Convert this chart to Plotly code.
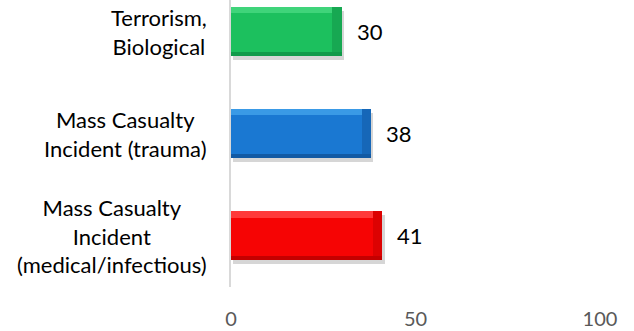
import plotly.graph_objects as go

# Response counts per scenario, listed bottom to top
categories = [
    "Mass Casualty<br>Incident<br>(medical/infectious)",
    "Mass Casualty<br>Incident (trauma)",
    "Terrorism,<br>Biological",
]
values = [41, 38, 30]
colors = ["#f60404", "#1a78d2", "#1cc05e"]
light_colors = ["#ff3a3a", "#3a9ae6", "#3fd47a"]
end_colors = ["#dc0202", "#1667b8", "#17a852"]
dark_colors = ["#c40000", "#125aa4", "#119a4a"]
x_ticks = [0, 50, 100]

font_family = "Lato, 'Open Sans', sans-serif"
bar_width = 0.48
bevel = 0.06          # bevel thickness across the bar (category units)
bevel_len = 2.6       # bevel length at the bar end (value units)
pos = list(range(len(categories)))

fig = go.Figure()

def add_bar(x, base, width, offset, color):
    fig.add_trace(go.Bar(
        y=pos, x=x, base=base, orientation="h", width=width, offset=offset,
        marker=dict(color=color, line=dict(width=0)),
        hoverinfo="skip", showlegend=False,
    ))

# soft drop shadow under each bar
add_bar(values, 0.6, bar_width, -bar_width / 2 - 0.035, "rgba(0,0,0,0.16)")
# bar body
add_bar(values, 0, bar_width, -bar_width / 2, colors)
# shaded bevel at the bar end
add_bar([bevel_len] * len(values), [v - bevel_len for v in values],
        bar_width, -bar_width / 2, end_colors)
# darker bevel along the bottom edge
add_bar(values, 0, bevel * 0.7, -bar_width / 2, dark_colors)
# lighter bevel along the top edge
add_bar([v - bevel_len for v in values], 0, bevel, bar_width / 2 - bevel, light_colors)

annotations = []
for p, v in zip(pos, values):
    annotations.append(dict(
        x=v, y=p, xref="x", yref="y", text=str(v), showarrow=False,
        xanchor="left", xshift=13, font=dict(size=22, color="#000000", family=font_family),
    ))
for p, c in zip(pos, categories):
    annotations.append(dict(
        x=0, y=p, xref="paper", yref="y", text=c, showarrow=False,
        xanchor="right", xshift=-22, align="center",
        font=dict(size=22, color="#000000", family=font_family),
    ))

fig.update_layout(
    width=634, height=331,
    margin=dict(l=231, r=34, t=0, b=44),
    paper_bgcolor="white", plot_bgcolor="white",
    barmode="overlay", bargap=0,
    annotations=annotations,
    xaxis=dict(
        range=[0, 100], tickvals=x_ticks, showgrid=False, zeroline=False,
        showline=False, ticks="", ticklabelstandoff=18,
        tickfont=dict(size=20, color="#595959", family=font_family),
    ),
    yaxis=dict(
        range=[-0.5, 2.31], showticklabels=False, showgrid=False,
        zeroline=False, showline=True, linecolor="#d9d9d9", linewidth=2,
        ticks="",
    ),
)

fig.write_html("out.html")
